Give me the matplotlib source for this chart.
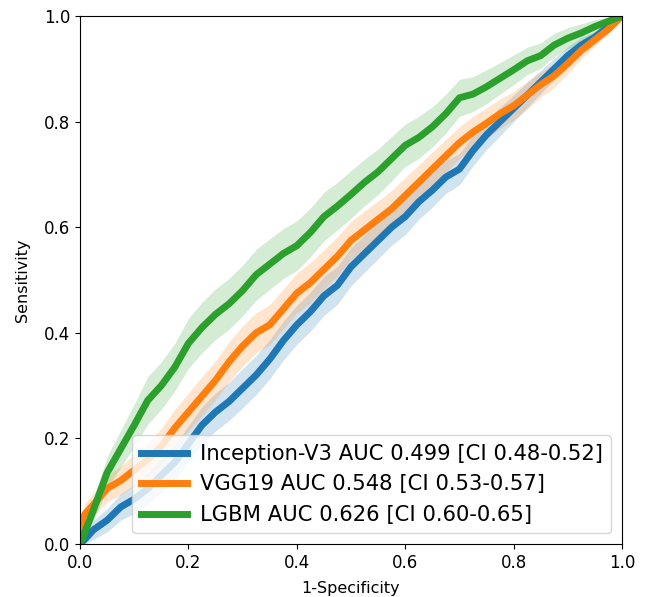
import numpy as np
import matplotlib
matplotlib.use('Agg')
import matplotlib.pyplot as plt

# 1-specificity grid shared by all curves
fpr = [0, 0.005, 0.01, 0.025, 0.05, 0.075, 0.1, 0.125, 0.15, 0.175, 0.2,
       0.225, 0.25, 0.275, 0.3, 0.325, 0.35, 0.375, 0.4, 0.425, 0.45,
       0.475, 0.5, 0.525, 0.55, 0.575, 0.6, 0.625, 0.65, 0.675, 0.7,
       0.725, 0.75, 0.775, 0.8, 0.825, 0.85, 0.875, 0.9, 0.925, 0.95,
       0.975, 1.0]

tpr_inception = [0, 0.005, 0.01, 0.027, 0.045, 0.07, 0.085, 0.105, 0.13, 0.155, 0.19,
                 0.225, 0.25, 0.27, 0.295, 0.32, 0.35, 0.385, 0.415, 0.44, 0.47,
                 0.49, 0.525, 0.55, 0.575, 0.6, 0.62, 0.648, 0.67, 0.695, 0.71,
                 0.745, 0.775, 0.8, 0.825, 0.85, 0.875, 0.9, 0.925, 0.945, 0.96,
                 0.98, 1.0]
tpr_vgg = [0, 0.05, 0.058, 0.075, 0.105, 0.12, 0.14, 0.16, 0.185, 0.22, 0.25,
           0.28, 0.31, 0.345, 0.375, 0.4, 0.415, 0.445, 0.475, 0.495, 0.52,
           0.545, 0.575, 0.595, 0.615, 0.635, 0.66, 0.685, 0.71, 0.735, 0.76,
           0.78, 0.797, 0.815, 0.83, 0.85, 0.87, 0.887, 0.91, 0.935, 0.955,
           0.975, 1.0]
tpr_lgbm = [0, 0.012, 0.025, 0.065, 0.135, 0.18, 0.225, 0.272, 0.30, 0.335, 0.38,
            0.41, 0.435, 0.455, 0.48, 0.51, 0.53, 0.55, 0.565, 0.59, 0.62,
            0.64, 0.662, 0.685, 0.705, 0.73, 0.755, 0.77, 0.79, 0.815, 0.845,
            0.852, 0.866, 0.882, 0.898, 0.915, 0.925, 0.945, 0.958, 0.968, 0.98,
            0.99, 1.0]

# half width of the confidence bands
ci_inception = [0, 0.008, 0.012, 0.018, 0.022, 0.025, 0.027, 0.03, 0.032, 0.033, 0.034,
                0.035, 0.036, 0.036, 0.037, 0.037, 0.037, 0.037, 0.037, 0.037, 0.037,
                0.036, 0.036, 0.035, 0.035, 0.034, 0.034, 0.033, 0.032, 0.031, 0.03,
                0.029, 0.028, 0.027, 0.025, 0.024, 0.022, 0.02, 0.017, 0.014, 0.011,
                0.006, 0]
ci_vgg = [0, 0.015, 0.02, 0.022, 0.025, 0.027, 0.03, 0.032, 0.034, 0.035, 0.036,
          0.037, 0.037, 0.038, 0.038, 0.038, 0.038, 0.038, 0.038, 0.038, 0.037,
          0.037, 0.036, 0.036, 0.035, 0.035, 0.034, 0.033, 0.032, 0.031, 0.03,
          0.03, 0.029, 0.028, 0.027, 0.026, 0.024, 0.022, 0.019, 0.016, 0.012,
          0.007, 0]
ci_lgbm = [0, 0.005, 0.01, 0.02, 0.03, 0.035, 0.04, 0.045, 0.045, 0.045, 0.047,
           0.048, 0.048, 0.048, 0.048, 0.048, 0.048, 0.047, 0.047, 0.046, 0.046,
           0.045, 0.045, 0.044, 0.043, 0.042, 0.04, 0.04, 0.038, 0.037, 0.035,
           0.033, 0.032, 0.03, 0.028, 0.026, 0.024, 0.022, 0.02, 0.017, 0.013,
           0.008, 0]

labels = ['Inception-V3 AUC 0.499 [CI 0.48-0.52]',
          'VGG19 AUC 0.548 [CI 0.53-0.57]',
          'LGBM AUC 0.626 [CI 0.60-0.65]']
colors = ['tab:blue', 'tab:orange', 'tab:green']

fig, ax = plt.subplots(figsize=(6.47, 5.97), dpi=100)
fig.subplots_adjust(left=80 / 647, right=622 / 647, bottom=1 - 544 / 597, top=1 - 16 / 597)

x = np.array(fpr)
for tpr, ci, label, color in zip([tpr_inception, tpr_vgg, tpr_lgbm],
                                 [ci_inception, ci_vgg, ci_lgbm], labels, colors):
    tpr = np.array(tpr)
    ci = np.array(ci)
    ax.fill_between(x, np.clip(tpr - ci, 0, 1), np.clip(tpr + ci, 0, 1),
                    color=color, alpha=0.2, linewidth=0)
    ax.plot(x, tpr, color=color, linewidth=5, label=label)

ax.set_xlim(0, 1)
ax.set_ylim(0, 1)
ax.set_xticks([0, 0.2, 0.4, 0.6, 0.8, 1.0])
ax.set_yticks([0, 0.2, 0.4, 0.6, 0.8, 1.0])
ax.tick_params(labelsize=12)
ax.set_xlabel('1-Specificity', fontsize=11.5, labelpad=7)
ax.set_ylabel('Sensitivity', fontsize=11.5, labelpad=10)

ax.legend(loc='lower right', fontsize=15.2, labelspacing=0.5, borderpad=0.4,
          handlelength=2.2, handletextpad=0.6)

plt.savefig('out.png', dpi=100)
